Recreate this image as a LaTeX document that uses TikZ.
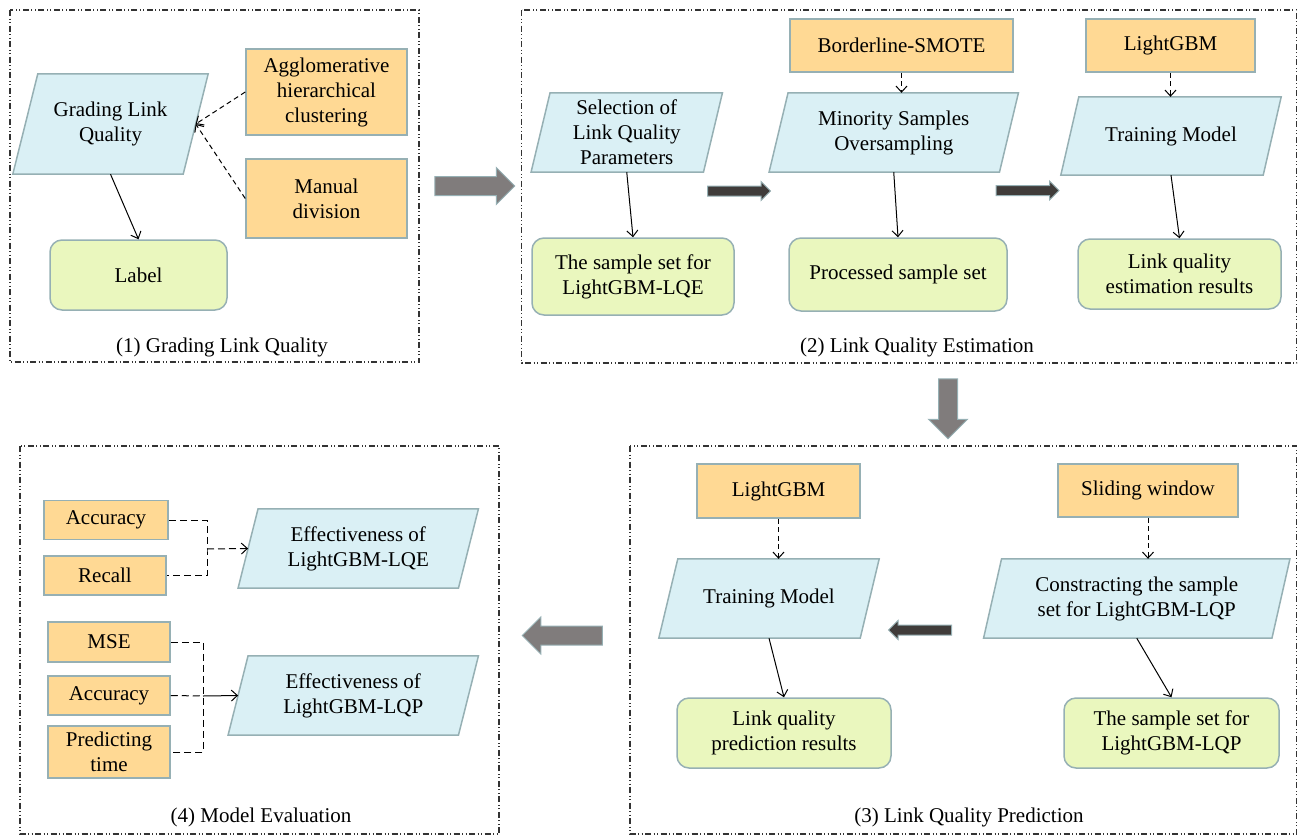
\documentclass[tikz,border=0pt]{standalone}
\usepackage{fontspec}
\setmainfont{Liberation Serif}
\usetikzlibrary{shapes.arrows,arrows.meta,backgrounds}
\definecolor{orfill}{RGB}{255,217,148}
\definecolor{blfill}{RGB}{218,240,245}
\definecolor{grfill}{RGB}{234,247,190}
\definecolor{edge}{RGB}{150,176,180}
\definecolor{bigarr}{RGB}{128,124,124}
\definecolor{darkarr}{RGB}{64,60,58}
\begin{document}
\begin{tikzpicture}[x=1pt,y=-1pt,font=\fontsize{21}{25}\selectfont,
  box/.style={draw=edge,line width=1.5pt,fill=orfill,align=center,inner sep=2pt},
  io/.style={align=center,inner sep=2pt},
  iobox/.style={draw=edge,line width=1.5pt,fill=blfill},
  res/.style={draw=edge,line width=1.5pt,fill=grfill,rounded corners=12pt,align=center,inner sep=2pt},
  frame/.style={draw=black!80,line width=1.2pt,dash pattern=on 6pt off 2.5pt on 1pt off 2.5pt on 1pt off 2.5pt},
  flow/.style={-{Straight Barb[length=6pt,width=11pt]},line width=1pt},
  hint/.style={flow,dash pattern=on 5pt off 3.5pt},
  bigstep/.style={single arrow,draw=edge,line width=1pt,fill=bigarr,inner sep=9pt,minimum height=80pt,single arrow head extend=9pt,single arrow head indent=0pt},
  smallstep/.style={single arrow,draw=edge,line width=1pt,fill=darkarr,inner sep=4.5pt,minimum height=63pt,single arrow head extend=4.5pt,single arrow head indent=0pt}]
\useasboundingbox (0,0) rectangle (1298,835);

% (1) grading
\draw[frame] (10,10) rectangle (419,362);
\node[io,minimum width=170pt,minimum height=100pt] (glq) at (110.5,124) {Grading Link\\Quality};
\node[box,minimum width=161pt,minimum height=86pt] (agg) at (326.5,92) {Agglomerative\\hierarchical\\clustering};
\node[box,minimum width=161pt,minimum height=79pt] (man) at (326.5,198.5) {Manual\\division};
\node[res,minimum width=177pt,minimum height=70pt] (lab) at (138.5,275) {Label};
\node (cap1) at (222,347) {(1) Grading Link Quality};
\draw[hint] (agg.west) -- (glq.east);
\draw[hint] (man.west) -- (glq.east);
\draw[flow] (glq.south) -- (lab.north);

\node[bigstep] (go12) at (470,186) {};

% (2) estimation
\draw[frame] (521.5,10) rectangle (1296.5,363);
\node[box,minimum width=223pt,minimum height=53pt] (bsm) at (901.5,45.5) {Borderline-SMOTE};
\node[box,minimum width=169pt,minimum height=53pt] (lgbe) at (1170.5,45.5) {LightGBM};
\node[io,minimum width=172pt,minimum height=79pt] (sel) at (626.75,132.5) {Selection of\\Link Quality\\Parameters};
\node[io,minimum width=230pt,minimum height=79pt] (mso) at (893.75,132.5) {Minority Samples\\Oversampling};
\node[io,minimum width=202pt,minimum height=78pt] (trne) at (1171,136) {Training Model};
\node[res,minimum width=202pt,minimum height=77pt] (lqe) at (633,276.5) {The sample set for\\LightGBM-LQE};
\node[res,minimum width=218pt,minimum height=73pt] (pss) at (898,274.5) {Processed sample set};
\node[res,minimum width=203pt,minimum height=70pt] (ler) at (1179.5,274) {Link quality\\estimation results};
\node (cap2) at (917,347) {(2) Link Quality Estimation};
\draw[hint] (bsm.south) -- (mso.north -| bsm.south);
\draw[hint] (lgbe.south) -- (trne.north -| lgbe.south);
\draw[flow] (sel.south) -- (lqe.north);
\draw[flow] (mso.south) -- (pss.north);
\draw[flow] (trne.south) -- (ler.north);
\node[smallstep] (st1) at (736.5,191) {};
\node[smallstep] (st2) at (1025,190.5) {};

\node[bigstep,minimum height=60pt,single arrow head extend=10pt,shape border rotate=270] (go23) at (948,404) {};

% (3) prediction
\draw[frame] (630,446) rectangle (1296.5,834);
\node[box,minimum width=163pt,minimum height=54pt] (lgbp) at (778.5,491) {LightGBM};
\node[box,minimum width=180pt,minimum height=53pt] (slw) at (1148,490.5) {Sliding window};
\node[io,minimum width=201pt,minimum height=79pt] (trnp) at (769,598.5) {Training Model};
\node[io,minimum width=288pt,minimum height=79pt] (con) at (1136.75,598.5) {Constracting the sample\\set for LightGBM-LQP};
\node[res,minimum width=214pt,minimum height=70pt] (lpr) at (784,733) {Link quality\\prediction results};
\node[res,minimum width=215pt,minimum height=70pt] (lqp) at (1171.5,733) {The sample set for\\LightGBM-LQP};
\node (cap3) at (969,817) {(3) Link Quality Prediction};
\draw[hint] (lgbp.south) -- (trnp.north -| lgbp.south);
\draw[hint] (slw.south) -- (con.north -| slw.south);
\draw[flow] (trnp.south) -- (lpr.north);
\draw[flow] (con.south) -- (lqp.north);
\node[smallstep,shape border rotate=180] (st3) at (922.5,630) {};

\node[bigstep,shape border rotate=180] (go34) at (567,635.5) {};

% (4) evaluation
\draw[frame] (20,446) rectangle (499,834);
\node[box,minimum width=124pt,minimum height=39pt] (acc) at (106,520) {Accuracy};
\node[box,minimum width=122pt,minimum height=39pt] (rec) at (105,575.5) {Recall};
\node[box,minimum width=122pt,minimum height=40pt] (mse) at (109,642) {MSE};
\node[box,minimum width=122pt,minimum height=39pt] (accp) at (109,695.5) {Accuracy};
\node[box,minimum width=122pt,minimum height=52pt] (prt) at (109,752) {Predicting\\time};
\node[io,minimum width=220pt,minimum height=79pt] (efq) at (358.25,548.5) {Effectiveness of\\LightGBM-LQE};
\node[io,minimum width=230pt,minimum height=79pt] (efp) at (353.25,695.5) {Effectiveness of\\LightGBM-LQP};
\node (cap4) at (261,817) {(4) Model Evaluation};
\coordinate (jq) at (207,549);
\coordinate (jp) at (203,696);
\draw[dash pattern=on 7pt off 4pt,line width=1pt] (acc.east) -| (jq) |- (rec.east);
\draw[hint,dash pattern=on 7pt off 4pt] (jq) -- (efq.west);
\draw[dash pattern=on 7pt off 4pt,line width=1pt] (mse.east) -| (jp) |- (prt.east);
\draw[dash pattern=on 7pt off 4pt,line width=1pt] (accp.east) -- (jp);
\draw[flow] (jp) -- (efp.west);

% parallelograms behind the io nodes
\begin{scope}[on background layer]
\foreach \n/\s in {glq/12.5,sel/9.5,mso/9.5,trne/9,trnp/9.5,con/9,efq/10,efp/10}
  \draw[iobox] ([xshift=\s pt]\n.north west) -- ([xshift=\s pt]\n.north east)
    -- ([xshift=-\s pt]\n.south east) -- ([xshift=-\s pt]\n.south west) -- cycle;
\end{scope}
\end{tikzpicture}
\end{document}
